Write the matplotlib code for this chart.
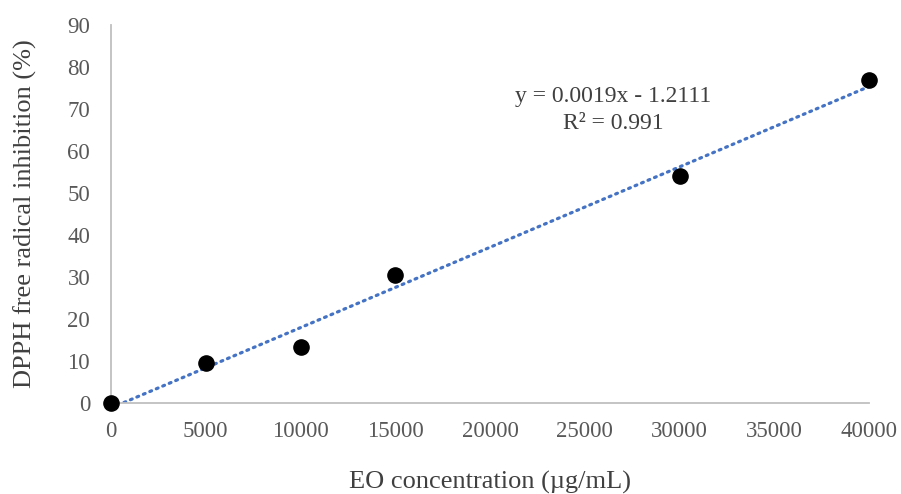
import numpy as np
import matplotlib
matplotlib.use("Agg")
import matplotlib.pyplot as plt

# data
conc = [0, 5000, 10000, 15000, 30000, 40000]
inhibition = [0.0, 9.5, 13.3, 30.5, 54.0, 76.9]
x_ticks = [0, 5000, 10000, 15000, 20000, 25000, 30000, 35000, 40000]
y_ticks = [0, 10, 20, 30, 40, 50, 60, 70, 80, 90]

plt.rcParams["font.family"] = ["Liberation Serif", "DejaVu Serif"]

fig = plt.figure(figsize=(9.01, 4.94), dpi=100)
ax = fig.add_axes([111 / 901, 1 - 403 / 494, (869 - 111) / 901, (403 - 25) / 494])

# linear trendline
slope, icpt = np.polyfit(conc, inhibition, 1)
xs = np.array([conc[0], conc[-1]])
ax.plot(xs, slope * xs + icpt, color="#4472C4", lw=2.3,
        ls=(0, (0.6, 1.6)), dash_capstyle="round", zorder=2)

ax.scatter(conc, inhibition, s=120, color="black", zorder=3, clip_on=False)

ax.set_xlim(0, 40000)
ax.set_ylim(0, 90)
ax.set_xticks(x_ticks)
ax.set_yticks(y_ticks)
ax.tick_params(length=0, labelsize=16.5, colors="#595959")
ax.tick_params(axis="x", pad=13)
ax.tick_params(axis="y", pad=15)
for s in ["top", "right"]:
    ax.spines[s].set_visible(False)
for s in ["left", "bottom"]:
    ax.spines[s].set_color("#BFBFBF")
    ax.spines[s].set_linewidth(1.3)

ax.set_xlabel("EO concentration (\u00b5g/mL)", fontsize=19, color="#404040", labelpad=21)
ax.set_ylabel("DPPH free radical inhibition (%)", fontsize=19, color="#404040", labelpad=22)

ax.text(26500, 69.8, "y = 0.0019x - 1.2111\nR\u00b2 = 0.991", ha="center", va="center",
        fontsize=17, color="#404040", linespacing=1.4)

fig.savefig("out.png", dpi=100)
